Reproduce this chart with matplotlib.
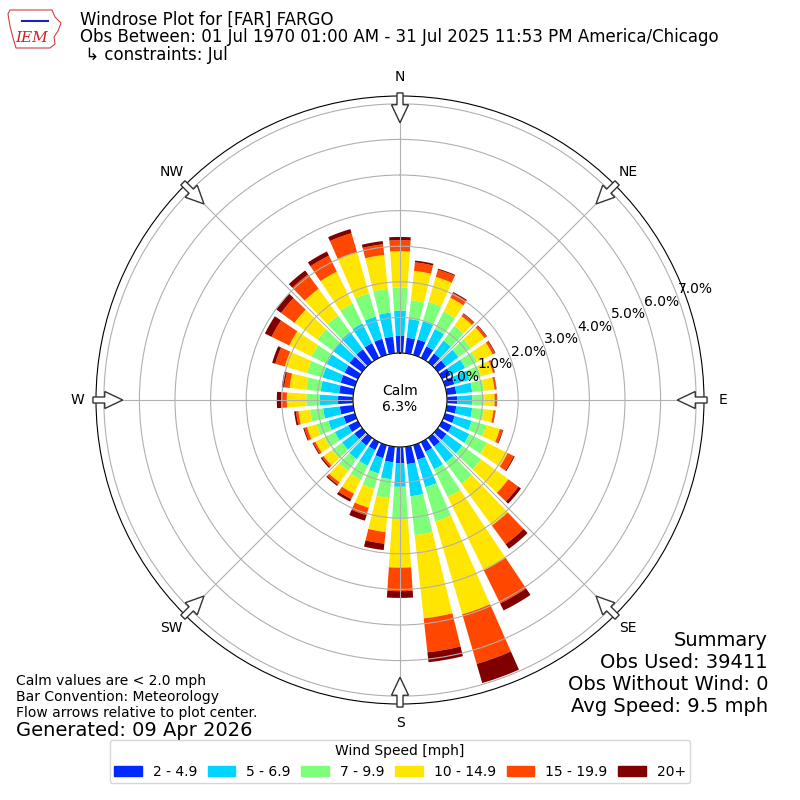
import numpy as np
import matplotlib
matplotlib.use("Agg")
import matplotlib.pyplot as plt
from matplotlib.patches import FancyArrow, Patch, Polygon

# wind direction bins (deg, meteorological) and speed classes
directions = np.arange(0, 360, 10)
speed_labels = ["2 - 4.9", "5 - 6.9", "7 - 9.9", "10 - 14.9", "15 - 19.9", "20+"]

spd_2_5 = [0.48, 0.44, 0.45, 0.36, 0.30, 0.28, 0.27, 0.27, 0.27, 0.29, 0.27, 0.28,
           0.30, 0.30, 0.30, 0.30, 0.43, 0.49, 0.46, 0.44, 0.38, 0.25, 0.27, 0.27,
           0.30, 0.33, 0.38, 0.42, 0.40, 0.42, 0.42, 0.44, 0.45, 0.46, 0.47, 0.47]
spd_5_7 = [0.71, 0.53, 0.53, 0.54, 0.45, 0.44, 0.45, 0.45, 0.45, 0.42, 0.45, 0.50,
           0.55, 0.55, 0.55, 0.55, 0.80, 0.91, 0.66, 0.48, 0.45, 0.49, 0.47, 0.43,
           0.42, 0.45, 0.47, 0.51, 0.52, 0.53, 0.56, 0.58, 0.60, 0.62, 0.65, 0.68]
spd_7_10 = [0.65, 0.53, 0.57, 0.55, 0.51, 0.43, 0.38, 0.33, 0.33, 0.34, 0.33, 0.42,
            0.55, 0.65, 0.75, 0.87, 1.00, 1.10, 0.90, 0.53, 0.45, 0.44, 0.41, 0.35,
            0.33, 0.34, 0.37, 0.38, 0.41, 0.45, 0.47, 0.53, 0.57, 0.62, 0.68, 0.67]
spd_10_15 = [1.02, 0.83, 0.73, 0.43, 0.34, 0.47, 0.48, 0.35, 0.30, 0.29, 0.27, 0.40,
             0.65, 0.95, 1.45, 2.29, 2.72, 2.35, 1.37, 0.96, 0.55, 0.43, 0.40, 0.29,
             0.28, 0.28, 0.33, 0.55, 0.47, 0.65, 0.70, 0.80, 0.93, 1.00, 1.21, 0.96]
spd_15_20 = [0.31, 0.24, 0.21, 0.15, 0.08, 0.07, 0.07, 0.05, 0.05, 0.06, 0.05, 0.08,
             0.19, 0.35, 0.65, 1.04, 1.45, 0.96, 0.66, 0.33, 0.22, 0.17, 0.08, 0.06,
             0.06, 0.08, 0.07, 0.16, 0.15, 0.28, 0.55, 0.47, 0.50, 0.50, 0.55, 0.30]
spd_20p = [0.09, 0.05, 0.03, 0.03, 0.02, 0.02, 0.02, 0.01, 0.01, 0.01, 0.01, 0.02,
           0.03, 0.09, 0.16, 0.22, 0.56, 0.28, 0.19, 0.18, 0.16, 0.08, 0.04, 0.04,
           0.03, 0.03, 0.05, 0.12, 0.07, 0.09, 0.21, 0.17, 0.14, 0.13, 0.12, 0.09]
speed_bins = [spd_2_5, spd_5_7, spd_7_10, spd_10_15, spd_15_20, spd_20p]

calm_pct = 6.3
rticks = np.arange(0, 8)
compass = ["N", "NE", "E", "SE", "S", "SW", "W", "NW"]

colors = plt.cm.jet(np.linspace(0, 1, 7))[1:]

fig = plt.figure(figsize=(8, 8), dpi=100)
ax = fig.add_axes([0.12, 0.12, 0.76, 0.76], projection="polar")
ax.set_theta_zero_location("N")
ax.set_theta_direction(-1)

theta = np.deg2rad(directions)
bottom = np.zeros(len(directions))
for vals, c, lab in zip(speed_bins, colors, speed_labels):
    ax.bar(theta, vals, width=np.deg2rad(7.6), bottom=bottom, color=c,
           label=lab, linewidth=0)
    bottom = bottom + np.array(vals)

ax.set_rorigin(-1.32)
ax.set_ylim(0, 7.22)
ax.set_rgrids(rticks, [f"{v:.1f}%" for v in rticks], angle=69.5, fontsize=10)
ax.set_thetagrids(np.arange(0, 360, 45), [""] * 8)
ax.grid(True, color="#b0b0b0", lw=0.8)

# compass labels and flow arrows
for i, lab in enumerate(compass):
    a = np.deg2rad(i * 45)
    ux, uy = np.sin(a), np.cos(a)
    ax.text(0.5 + 0.531 * ux, 0.5 + 0.531 * uy, lab, transform=ax.transAxes,
            ha="center", va="center", fontsize=10)
    arr = FancyArrow(0.5 + 0.505 * ux, 0.5 + 0.505 * uy, -0.049 * ux, -0.049 * uy,
                     width=0.0099, head_width=0.028, head_length=0.0296,
                     length_includes_head=True, fc="white", ec="#333333", lw=1,
                     transform=ax.transAxes, clip_on=False, zorder=5)
    ax.add_patch(arr)

ax.text(0.5, 0.5 + 9 / 608, "Calm", transform=ax.transAxes, ha="center",
        va="center", fontsize=10)
ax.text(0.5, 0.5 - 7 / 608, f"{calm_pct}%", transform=ax.transAxes, ha="center",
        va="center", fontsize=10)

# header
fig.text(80 / 800, 1 - 20 / 800, "Windrose Plot for [FAR] FARGO", fontsize=12, va="center")
fig.text(80 / 800, 1 - 37.5 / 800,
         "Obs Between: 01 Jul 1970 01:00 AM - 31 Jul 2025 11:53 PM America/Chicago",
         fontsize=12, va="center")
fig.text(80 / 800, 1 - 55 / 800, " \u21b3 constraints: Jul", fontsize=12, va="center")

# IEM logo (rough)
iowa = [(10, 10), (52, 10), (55, 17), (61, 23), (58, 31), (54, 37), (55, 44),
        (50, 48), (16, 48), (13, 38), (10, 26), (8, 14)]
fig.add_artist(Polygon([(x / 800, 1 - y / 800) for x, y in iowa], closed=True,
                       fill=False, ec="#d04040", lw=0.8, transform=fig.transFigure))
fig.add_artist(plt.Line2D([22 / 800, 48 / 800], [1 - 21 / 800, 1 - 21 / 800],
                          color="#2020c0", lw=1.5, transform=fig.transFigure))
fig.text(32 / 800, 1 - 38 / 800, "IEM", color="#d02020", fontsize=11,
         family="DejaVu Serif", style="italic", ha="center", va="center")

# footer notes
fig.text(16 / 800, 1 - 685 / 800, "Calm values are < 2.0 mph", fontsize=10, va="baseline")
fig.text(16 / 800, 1 - 701 / 800, "Bar Convention: Meteorology", fontsize=10, va="baseline")
fig.text(16 / 800, 1 - 717 / 800, "Flow arrows relative to plot center.", fontsize=10,
         va="baseline")
fig.text(16 / 800, 1 - 736 / 800, "Generated: 09 Apr 2026", fontsize=14, va="baseline")

summary = ["Summary", "Obs Used: 39411", "Obs Without Wind: 0", "Avg Speed: 9.5 mph"]
for i, s in enumerate(summary):
    fig.text(768 / 800, 1 - (640 + 22 * i) / 800, s, fontsize=14, ha="right", va="center")

handles = [Patch(color=c) for c in colors]
fig.legend(handles, speed_labels, title="Wind Speed [mph]", ncol=6, loc="lower center",
           bbox_to_anchor=(0.5, 10 / 800), fontsize=10, title_fontsize=10,
           columnspacing=0.75, labelspacing=0.5, borderpad=0.3)

fig.savefig("out.png", dpi=100)
